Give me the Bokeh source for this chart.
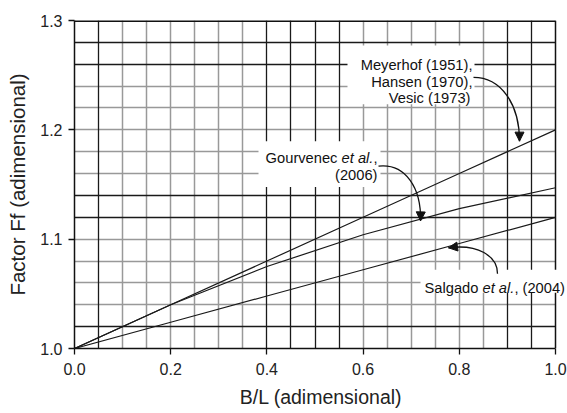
from bokeh.plotting import figure
from bokeh.models import Range1d, FixedTicker, Grid, Label, Title, Arrow, NormalHead
from bokeh.embed import file_html
from bokeh.resources import INLINE

# ---------------- data ----------------
bl = [0.0, 0.2, 0.4, 0.6, 0.8, 1.0]
meyerhof = [1.000, 1.040, 1.080, 1.120, 1.160, 1.200]
gourvenec = [1.000, 1.040, 1.075, 1.104, 1.128, 1.147]
salgado = [1.000, 1.024, 1.048, 1.072, 1.096, 1.120]

x_ticks = [0.0, 0.2, 0.4, 0.6, 0.8, 1.0]
x_tick_labels = ["0.0", "0.2", "0.4", "0.6", "0.8", "1.0"]
y_ticks = [1.0, 1.1, 1.2, 1.3]
y_tick_labels = ["1.0", "1.1", "1.2", "1.3"]

x_grid_dark = [0.05, 0.40, 0.45, 0.50, 0.55, 0.90, 0.95]
x_grid_light = [0.10, 0.15, 0.20, 0.25, 0.30, 0.35, 0.60, 0.65, 0.70, 0.75, 0.80, 0.85]
y_grid_dark = [1.02, 1.12, 1.14, 1.26, 1.28]
y_grid_light = [1.04, 1.06, 1.08, 1.10, 1.16, 1.18, 1.20, 1.22, 1.24]

# ---------------- layout helpers (pixel -> data) ----------------
# plotted box spans x 74..555 (B/L 0..1) and y 20..349 (1.3..1.0); the frame is
# extended to the right edge so the Salgado label (which overhangs) is not clipped.
L, R, T, B = 74, 555, 20, 349
W, H = 567, 413
XMIN, XMAX, YMIN, YMAX = 0.0, 1.0, 1.0, 1.3


def dx(px):
    return XMIN + (px - L) / (R - L) * (XMAX - XMIN)


def dy(py):
    return YMIN + (B - py) / (B - T) * (YMAX - YMIN)


XFRAME = dx(W)

FONT = "Liberation Sans"
ANN_SIZE = 14.7
# Arial / Liberation Sans advance widths (per 1000 em)
AW = {" ": 278, ",": 278, ".": 278, "(": 333, ")": 333, "e": 556, "t": 278,
      "a": 556, "l": 222, "S": 667, "g": 556, "d": 556, "o": 556}
for c in "0123456789":
    AW[c] = 556


def tw(s, size=ANN_SIZE):
    return sum(AW.get(c, 556) for c in s) / 1000.0 * size


p = figure(width=W, height=H, x_range=Range1d(XMIN, XFRAME), y_range=Range1d(YMIN, YMAX),
           output_backend="svg", toolbar_location=None,
           min_border_left=L, min_border_right=0, min_border_top=T, min_border_bottom=H - B)

p.background_fill_color = "white"
p.border_fill_color = "white"
p.outline_line_color = None

p.xgrid.visible = False
p.ygrid.visible = False

for ticks, col, wid, dim in [(x_grid_light, "#999999", 1.5, 0),
                             (y_grid_light, "#999999", 1.5, 1),
                             (x_grid_dark, "#1a1a1a", 1.3, 0),
                             (y_grid_dark, "#1a1a1a", 1.3, 1)]:
    g = Grid(dimension=dim, ticker=FixedTicker(ticks=ticks),
             grid_line_color=col, grid_line_width=wid)
    p.add_layout(g)

# white boxes: behind the annotations (they interrupt the grid) and right of the box
box_l = [dx(347), dx(258), dx(420), XMAX]
box_r = [dx(474), dx(380), XFRAME, XFRAME]
box_t = [dy(45), dy(141), dy(270), YMAX]
box_b = [dy(104), dy(187), dy(293), YMIN]
p.quad(left=box_l, right=box_r, top=box_t, bottom=box_b,
       fill_color="white", line_color=None)

# top and right border of the plotting box (right border interrupted by the label)
p.line([XMIN, XMAX], [YMAX, YMAX], line_color="#111111", line_width=3)
p.line([XMAX, XMAX], [YMAX, dy(270)], line_color="#111111", line_width=1.5)
p.line([XMAX, XMAX], [dy(293), YMIN], line_color="#111111", line_width=1.5)

for ys in (meyerhof, gourvenec, salgado):
    p.line(bl, ys, line_color="#1a1a1a", line_width=1.2)

# ---------------- axes ----------------
for ax in (p.xaxis, p.yaxis):
    ax.axis_line_color = "#111111"
    ax.axis_line_width = 1.5
    ax.major_tick_line_color = "#111111"
    ax.major_tick_line_width = 1.3
    ax.major_tick_in = 0
    ax.major_tick_out = 6
    ax.minor_tick_line_color = None
    ax.major_label_text_font = FONT
    ax.major_label_text_font_size = "16px"
    ax.major_label_text_color = "#222222"
    ax.axis_label_text_font = FONT
    ax.axis_label_text_font_style = "normal"
    ax.axis_label_text_color = "#222222"

p.xaxis.bounds = (XMIN, XMAX)
p.yaxis.axis_label_text_font_size = "20.5px"
p.xaxis.ticker = FixedTicker(ticks=x_ticks)
p.yaxis.ticker = FixedTicker(ticks=y_ticks)
p.xaxis.major_label_overrides = dict(zip(x_ticks, x_tick_labels))
p.yaxis.major_label_overrides = dict(zip(y_ticks, y_tick_labels))
p.xaxis.major_label_standoff = 8
p.yaxis.major_label_standoff = 6
p.yaxis.axis_label = "Factor Ff (adimensional)"
p.yaxis.axis_label_standoff = 8

# x axis title, centred under the 0..1 box (frame is wider on the right)
p.add_layout(Title(text="B/L (adimensional)", align="center", offset=-(W - R) / 2,
                   text_font=FONT, text_font_size="19.5px", text_font_style="normal",
                   text_color="#222222", standoff=12, text_line_height=1.0), "below")


# ---------------- annotations ----------------
def label(px, py, text, align="left", italic=False):
    p.add_layout(Label(x=dx(px), y=dy(py), text=text, text_align=align,
                       text_baseline="alphabetic", text_font=FONT,
                       text_font_size=f"{ANN_SIZE}px",
                       text_font_style="italic" if italic else "normal",
                       text_color="#111111"))


# Meyerhof / Hansen / Vesic
label(472, 65, "Meyerhof (1951),", "right")
label(472, 82, "Hansen (1970),", "right")
label(470, 98, "Vesic (1973)", "right")

# Gourvenec et al., (2006)
gx = 377
label(gx, 158, ",", "right")
label(gx - tw(","), 158, "et al.", "right", italic=True)
label(gx - tw(",") - tw("et al."), 158, "Gourvenec ", "right")
label(gx, 175, "(2006)", "right")

# Salgado et al., (2004)
sx = 424
label(sx, 288, "Salgado ", "left")
label(sx + tw("Salgado "), 288, "et al.", "left", italic=True)
label(sx + tw("Salgado ") + tw("et al."), 288, ", (2004)", "left")

# curved arrows (pixel positions of start, controls, tip)
arrows_px = [
    ((473, 77), (500, 77), (519, 103), (519, 141)),
    ((378, 166), (405, 163), (421, 188), (420, 221)),
    ((497, 274), (497, 256), (477, 244), (448, 248)),
]
for (s, c0, c1, e) in arrows_px:
    p.bezier(x0=[dx(s[0])], y0=[dy(s[1])], x1=[dx(e[0])], y1=[dy(e[1])],
             cx0=[dx(c0[0])], cy0=[dy(c0[1])], cx1=[dx(c1[0])], cy1=[dy(c1[1])],
             line_color="#111111", line_width=1.3)
    vx, vy = e[0] - c1[0], e[1] - c1[1]
    n = (vx ** 2 + vy ** 2) ** 0.5
    sx0, sy0 = e[0] - 6 * vx / n, e[1] - 6 * vy / n
    p.add_layout(Arrow(x_start=dx(sx0), y_start=dy(sy0), x_end=dx(e[0]), y_end=dy(e[1]),
                       line_color="#111111", line_width=1.3,
                       end=NormalHead(size=9, fill_color="#111111", line_color="#111111",
                                      line_width=1)))

open("out.html", "w").write(file_html(p, INLINE))
